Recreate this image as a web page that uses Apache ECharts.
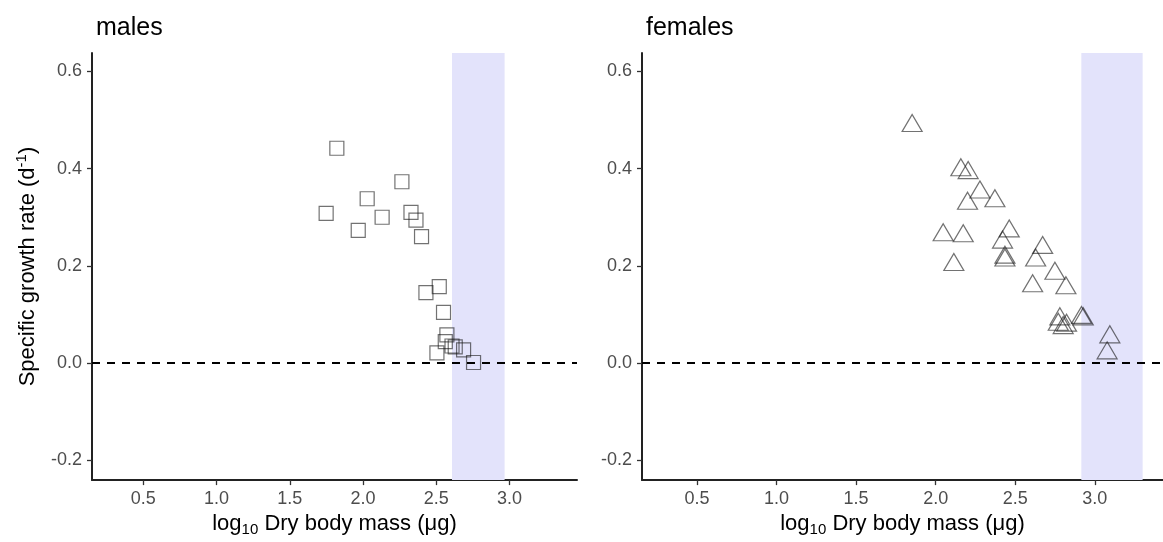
<!DOCTYPE html>
<html>
<head>
<meta charset="utf-8">
<script src="https://cdn.jsdelivr.net/npm/echarts@6/dist/echarts.min.js"></script>
<style>
html,body{margin:0;padding:0;background:#fff;}
#chart{width:1163px;height:542px;}
</style>
</head>
<body>
<div id="chart"></div>
<script>
// ---- data ----
const panelTitles = ['males', 'females'];
const xTickValues = [0.5, 1.0, 1.5, 2.0, 2.5, 3.0];
const yTickValues = [-0.2, 0.0, 0.2, 0.4, 0.6];

const malesMass = [1.821, 2.265, 2.028, 1.748, 2.130, 2.327, 2.361, 1.967, 2.399,
  2.520, 2.429, 2.549, 2.572, 2.561, 2.607, 2.504, 2.686, 2.754, 2.629];
const malesRate = [0.442, 0.373, 0.338, 0.308, 0.300, 0.310, 0.294, 0.273, 0.260,
  0.157, 0.145, 0.104, 0.058, 0.044, 0.035, 0.021, 0.027, 0.001, 0.033];

const femalesMass = [1.852, 2.158, 2.204, 2.278, 2.200, 2.372, 2.047, 2.173, 2.462,
  2.420, 2.435, 2.435, 2.114, 2.672, 2.628, 2.749, 2.609, 2.818, 2.780, 2.770,
  2.822, 2.801, 2.916, 2.927, 3.094, 3.077];
const femalesRate = [0.494, 0.403, 0.397, 0.357, 0.334, 0.339, 0.269, 0.267, 0.277,
  0.254, 0.223, 0.217, 0.208, 0.243, 0.217, 0.190, 0.164, 0.160, 0.096, 0.085,
  0.083, 0.078, 0.099, 0.096, 0.059, 0.026];

const malesBand = [2.607, 2.966];
const femalesBand = [2.915, 3.30];
const refLineY = 0;

// ---- build ----
function zip(a, b) { return a.map((v, i) => [v, b[i]]); }
const FONT = '"Liberation Sans", Arial, sans-serif';
const grids = [
  { left: 92, top: 53, width: 485, height: 429 },
  { left: 642, top: 53, width: 521, height: 429 }
];
const xRanges = [[0.15, 3.46], [0.155, 3.428]];
const yRange = [-0.241, 0.638];

function xAxis(i) {
  return {
    type: 'value', gridIndex: i, min: xRanges[i][0], max: xRanges[i][1],
    name: '{a|log}{sub|10}{a| Dry body mass (μg)}',
    nameLocation: 'middle', nameGap: 30,
    nameTextStyle: {
      fontFamily: FONT, color: '#000',
      rich: {
        a: { fontSize: 22, fontFamily: FONT, color: '#000', lineHeight: 26 },
        sub: { fontSize: 15, fontFamily: FONT, color: '#000', verticalAlign: 'bottom', lineHeight: 14 }
      }
    },
    splitLine: { show: false },
    axisLine: { show: true, onZero: false, lineStyle: { color: '#222', width: 2 } },
    axisTick: { show: true, length: 5, lineStyle: { color: '#333', width: 1.3 }, customValues: xTickValues },
    axisLabel: { fontSize: 18, fontFamily: FONT, color: '#4d4d4d', margin: 10,
      customValues: xTickValues, formatter: v => v.toFixed(1) }
  };
}
function yAxis(i) {
  return {
    type: 'value', gridIndex: i, min: yRange[0], max: yRange[1],
    name: i === 0 ? '{a|Specific growth rate (d}{sup|-1}{a|)}' : '',
    nameLocation: 'middle', nameGap: 50,
    nameTextStyle: {
      fontFamily: FONT, color: '#000',
      rich: {
        a: { fontSize: 22, fontFamily: FONT, color: '#000', lineHeight: 28 },
        sup: { fontSize: 15, fontFamily: FONT, color: '#000', verticalAlign: 'top', lineHeight: 14 }
      }
    },
    splitLine: { show: false },
    axisLine: { show: true, onZero: false, lineStyle: { color: '#222', width: 2 } },
    axisTick: { show: true, length: 5, lineStyle: { color: '#333', width: 1.3 }, customValues: yTickValues },
    axisLabel: { fontSize: 18, fontFamily: FONT, color: '#4d4d4d', margin: 10,
      customValues: yTickValues, formatter: v => v.toFixed(1) }
  };
}

function panelSeries(i, data, band, symbol, size) {
  return [
    { type: 'scatter', xAxisIndex: i, yAxisIndex: i, data: [], z: 1, silent: true,
      markArea: { silent: true, itemStyle: { color: '#e3e3fb' },
        data: [[{ xAxis: band[0] }, { xAxis: band[1] }]] } },
    { type: 'scatter', xAxisIndex: i, yAxisIndex: i, data: [], z: 2, silent: true,
      markLine: { silent: true, symbol: 'none', label: { show: false },
        lineStyle: { color: '#000', width: 2, type: [8, 7] },
        data: [{ yAxis: refLineY }] } },
    { type: 'scatter', xAxisIndex: i, yAxisIndex: i, data: data, z: 3,
      symbol: symbol, symbolSize: size,
      itemStyle: { color: 'rgba(0,0,0,0)', borderColor: 'rgba(20,20,20,0.75)', borderWidth: 1.2 } }
  ];
}

const option = {
  animation: false,
  backgroundColor: '#fff',
  title: [
    { text: panelTitles[0], left: 91, top: 11, textStyle: { fontSize: 25, fontWeight: 'normal', fontFamily: FONT, color: '#000' } },
    { text: panelTitles[1], left: 641, top: 11, textStyle: { fontSize: 25, fontWeight: 'normal', fontFamily: FONT, color: '#000' } }
  ],
  grid: grids,
  xAxis: [xAxis(0), xAxis(1)],
  yAxis: [yAxis(0), yAxis(1)],
  series: [
    ...panelSeries(0, zip(malesMass, malesRate), malesBand, 'rect', 14),
    ...panelSeries(1, zip(femalesMass, femalesRate), femalesBand, 'triangle', [20, 17])
  ]
};

const chart = echarts.init(document.getElementById('chart'), null, { renderer: 'canvas' });
chart.setOption(option);
</script>
</body>
</html>
